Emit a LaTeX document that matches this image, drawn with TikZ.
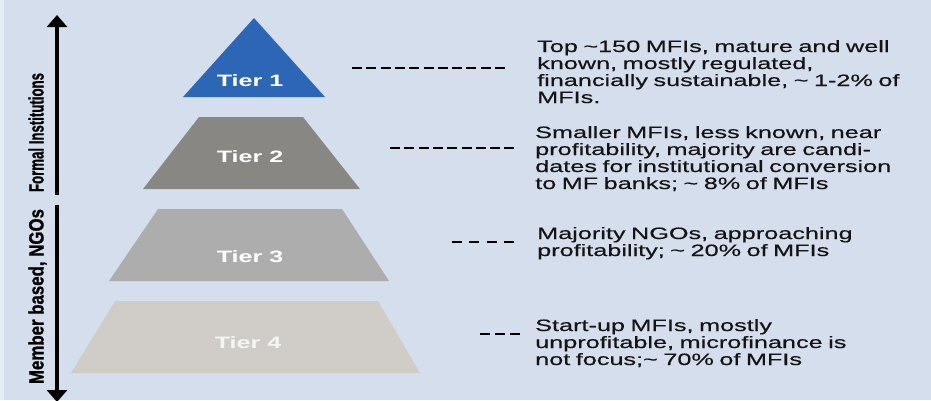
\documentclass[tikz,border=0pt]{standalone}
\usepackage{fontspec}
\usetikzlibrary{arrows.meta}
\newfontfamily\bodyfont[FakeStretch=1.53,FakeBold=0.4]{Liberation Sans}
\newfontfamily\tierfont[FakeStretch=1.52]{Liberation Sans}
\newfontfamily\sidefont[FakeBold=1]{Liberation Sans}
\definecolor{bgblue}{HTML}{D5DEEC}
\definecolor{bgstrip}{HTML}{E6ECF5}
\definecolor{tierA}{HTML}{2E66B6}
\definecolor{tierB}{HTML}{898783}
\definecolor{tierC}{HTML}{AEADAD}
\definecolor{tierD}{HTML}{D0CDC9}
\definecolor{bodytext}{HTML}{141414}
\tikzset{
  tierlabel/.style={inner sep=0pt, text=white, font=\tierfont\bfseries\fontsize{16.5}{17}\selectfont},
  desc/.style={inner sep=0pt, anchor=base west, align=left, text width=400pt, text=bodytext,
               font=\bodyfont\fontsize{16.5}{17}\selectfont},
  dashline/.style={line width=2.5pt, black, dash pattern=on 10pt off 4.3pt},
  axisline/.style={line width=4pt, black},
  sidelabel/.style={inner sep=0pt, rotate=90, anchor=base, text=black, font=\sidefont\bfseries}
}
\begin{document}
\begin{tikzpicture}[x=1pt,y=-1pt]
\useasboundingbox (0,0) rectangle (931,400);
\fill[bgblue] (0,0) rectangle (931,400);
\fill[bgstrip] (0,0) rectangle (4,400);

% pyramid tiers
\fill[tierA] (254,18) -- (325,97) -- (183,97) -- cycle;
\fill[tierB] (199,117) -- (303,117) -- (360,189) -- (143,189) -- cycle;
\fill[tierC] (158,209) -- (342,209) -- (389,281) -- (109,281) -- cycle;
\fill[tierD] (115,301) -- (378,301) -- (420,373) -- (71,373) -- cycle;

\node[tierlabel] (tier1) at (250,81) {Tier 1};
\node[tierlabel] (tier2) at (250,157) {Tier 2};
\node[tierlabel] (tier3) at (250,257) {Tier 3};
\node[tierlabel, text=white!96!black] (tier4) at (248,343) {Tier 4};

% vertical axis
\coordinate (atop) at (57,15);
\coordinate (gapT) at (57,195);
\coordinate (gapB) at (57,205);
\coordinate (abot) at (57,402);
\draw[axisline, -{Triangle[length=12pt,width=20pt]}] (gapT) -- (atop);
\draw[axisline, -{Triangle[length=12pt,width=20pt]}] (gapB) -- (abot);

\node[sidelabel] (formal) at (43.5,132.5) {\resizebox{119pt}{15pt}{Formal Institutions}};
\node[sidelabel] (member) at (43.5,296.5) {\resizebox{175pt}{15pt}{Member based, NGOs}};

% descriptions
\node[desc] (desc1) at (537,52) {Top \textasciitilde150 MFIs, mature and well\\known, mostly regulated,\\financially sustainable, \textasciitilde{} 1-2\% of\\MFIs.};
\node[desc] (desc2) at (535,138) {Smaller MFIs, less known, near\\profitability, majority are candi-\\dates for institutional conversion\\to MF banks; \textasciitilde{} 8\% of MFIs};
\node[desc] (desc3) at (537,239) {Majority NGOs, approaching\\profitability; \textasciitilde{} 20\% of MFIs};
\node[desc] (desc4) at (535,331) {Start-up MFIs, mostly\\unprofitable, microfinance is\\not focus;\textasciitilde{} 70\% of MFIs};

% dashed leaders
\coordinate (d1a) at (352,68);  \coordinate (d1b) at (506,68);
\coordinate (d2a) at (390,148); \coordinate (d2b) at (514,148);
\coordinate (d3a) at (452,242); \coordinate (d3b) at (514,242);
\coordinate (d4a) at (480,334); \coordinate (d4b) at (520,334);
\draw[dashline] (d1a) -- (d1b);
\draw[dashline] (d2a) -- (d2b);
\draw[dashline, dash pattern=on 10pt off 7.3pt] (d3a) -- (d3b);
\draw[dashline, dash pattern=on 10pt off 5pt] (d4a) -- (d4b);
\end{tikzpicture}
\end{document}
